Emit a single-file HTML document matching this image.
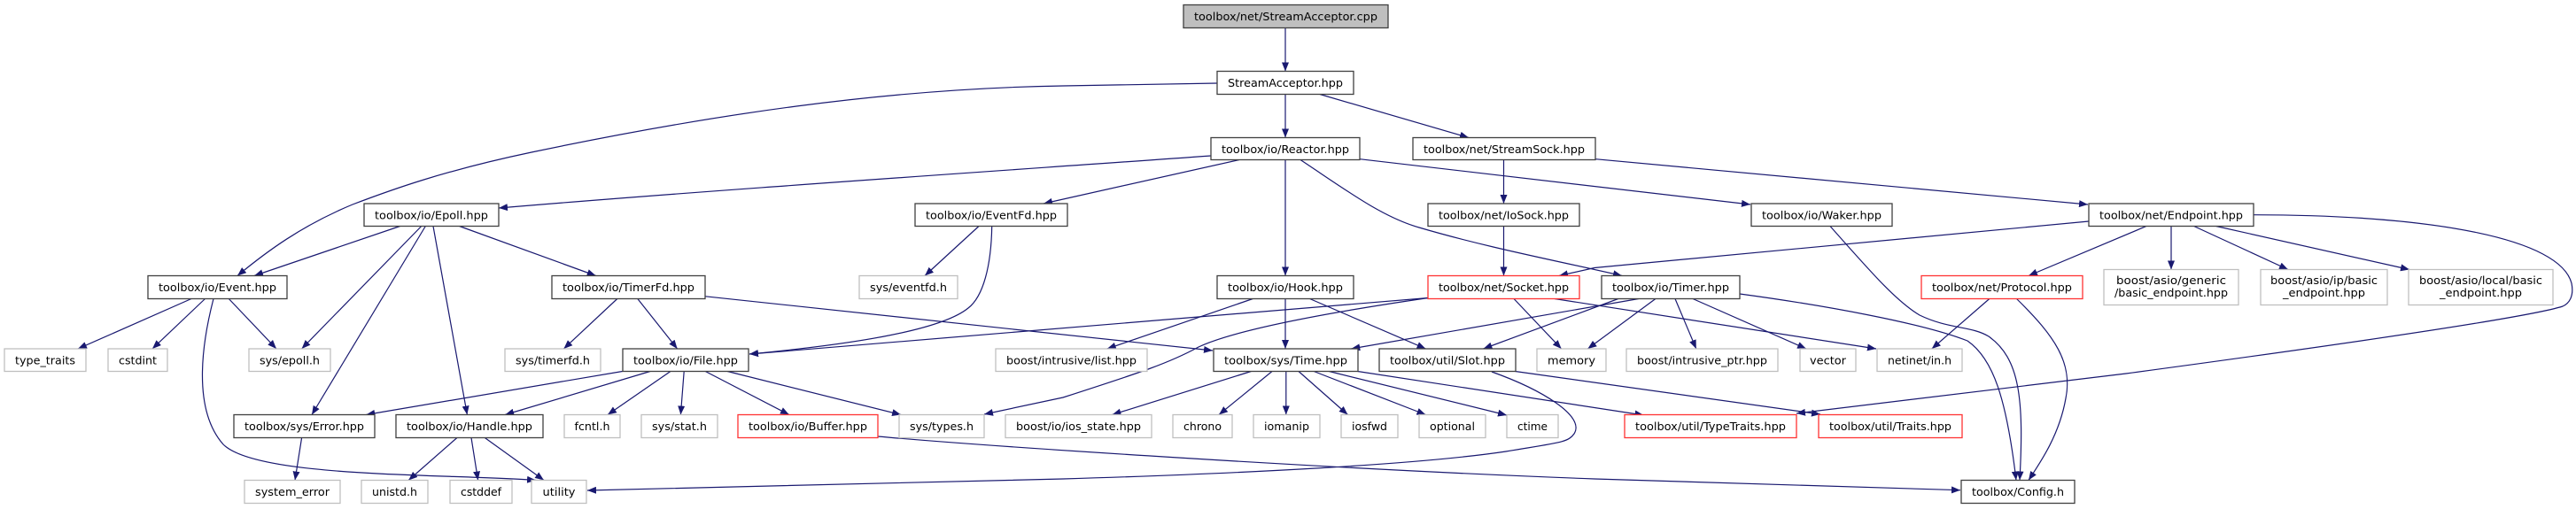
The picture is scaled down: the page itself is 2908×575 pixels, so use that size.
<!DOCTYPE html>
<html><head><meta charset="utf-8"><style>
html,body{margin:0;padding:0;background:#fff;}
svg{display:block;}
text{font-family:"DejaVu Sans","Liberation Sans",sans-serif;font-size:12px;fill:#000;}
.b{fill:#fff;stroke:#404040;stroke-width:1.3;}
.g{fill:#fff;stroke:#bfbfbf;stroke-width:1.3;}
.r{fill:#fff;stroke:#ff3333;stroke-width:1.3;}
.e{fill:none;stroke:#191970;stroke-width:1.2;marker-end:url(#a);}
</style></head><body>
<svg width="2908" height="575" viewBox="0 0 2908 575" xmlns="http://www.w3.org/2000/svg">
<defs><marker id="a" markerUnits="userSpaceOnUse" markerWidth="11" markerHeight="8" refX="10" refY="4" orient="auto"><path d="M0,0 L10,4 L0,8 z" fill="#191970"/></marker></defs>
<g>
<path class="e" d="M1451,31.5 L1451,80.5"/>
<path class="e" d="M1451,106.5 L1451,155.5"/>
<path class="e" d="M1490,106.5 L1658,155.5"/>
<path class="e" d="M1374,94 L1200,97 C1000,100 800,130 600,172 C500,193 440,215 398,231 C340,255 300,285 268,311.5"/>
<path class="e" d="M1367,176 C1100,195 800,215 563,235"/>
<path class="e" d="M1399,180.5 L1178,230"/>
<path class="e" d="M1451,180.5 L1451,311.5"/>
<path class="e" d="M1468,180.5 C1520,215 1560,245 1602,257 C1680,280 1760,295 1831,311.5"/>
<path class="e" d="M1535,179.7 L1976,231"/>
<path class="e" d="M1697.5,180.5 L1697.5,230"/>
<path class="e" d="M1801,179.7 L2357,231"/>
<path class="e" d="M451.6,255.5 L287,311.5"/>
<path class="e" d="M475.7,255.5 L340.6,394"/>
<path class="e" d="M480.3,255.5 L352,468.5"/>
<path class="e" d="M489,255.5 L527.4,468.5"/>
<path class="e" d="M518.6,255.5 L672.7,311.5"/>
<path class="e" d="M1105,255.5 L1044,311.5"/>
<path class="e" d="M1119.7,255.5 C1119,300 1110,335 1093,348 C1060,375 950,390 846,400"/>
<path class="e" d="M1697.5,255.5 L1697.5,311.5"/>
<path class="e" d="M2066,255.5 C2110,305 2140,340 2167,356 C2200,372 2225,368 2245,380 C2280,405 2285,450 2280,542.5"/>
<path class="e" d="M2358,250 L1800,302.5 L1760,311.5"/>
<path class="e" d="M2423,255.5 L2290,311.5"/>
<path class="e" d="M2451,255.5 L2451,304.5"/>
<path class="e" d="M2476.7,255.5 L2583,304.5"/>
<path class="e" d="M2501.7,255.5 L2720,304.5"/>
<path class="e" d="M2544,242.7 C2750,243 2890,270 2903,320 C2906,335 2900,343 2893,346 C2850,360 2600,395 2400,422 L2028,467"/>
<path class="e" d="M216,337.5 L88,394"/>
<path class="e" d="M231.5,337.5 L172,394"/>
<path class="e" d="M258.3,337.5 L312,394"/>
<path class="e" d="M241,337.5 C230,380 215,460 252,502 C290,540 500,535 605,542.5"/>
<path class="e" d="M696.8,337.5 L636.4,394"/>
<path class="e" d="M719.8,337.5 L764.6,394"/>
<path class="e" d="M796.3,334.8 L1369,396"/>
<path class="e" d="M1414.3,337.5 L1249.8,394"/>
<path class="e" d="M1451,337.5 L1451,394"/>
<path class="e" d="M1478.6,337.5 L1609.5,394"/>
<path class="e" d="M1612.5,336.5 L846,400"/>
<path class="e" d="M1612.5,336.5 C1520,350 1400,370 1353,392 C1320,410 1290,420 1200,449 L1111,468"/>
<path class="e" d="M1709,337.5 L1762.6,394"/>
<path class="e" d="M1755,337.5 L2118,394"/>
<path class="e" d="M1849.8,337.5 L1525.3,394"/>
<path class="e" d="M1826.8,337.5 L1674.5,394"/>
<path class="e" d="M1868.9,337.5 L1792.4,394"/>
<path class="e" d="M1891,337.5 L1914.8,394"/>
<path class="e" d="M1911,337.5 L2039,394"/>
<path class="e" d="M1964,332 C2060,345 2170,365 2221,385 C2250,405 2265,450 2276,542.5"/>
<path class="e" d="M2245.8,337.5 L2180.8,394"/>
<path class="e" d="M2276.5,337.5 C2320,380 2340,410 2332,450 C2325,490 2305,520 2290,542.5"/>
<path class="e" d="M702.6,419.5 L413.3,468.5"/>
<path class="e" d="M734,419.5 L570.2,468.5"/>
<path class="e" d="M756.9,419.5 L686,468.5"/>
<path class="e" d="M772.2,419.5 L768.4,468.5"/>
<path class="e" d="M796.3,419.5 L890.9,468.5"/>
<path class="e" d="M821.2,419.5 L1017.1,468.5"/>
<path class="e" d="M1412.4,419.5 L1255.5,468.5"/>
<path class="e" d="M1436,419.5 L1376,468.5"/>
<path class="e" d="M1451.8,419.5 L1451.8,468.5"/>
<path class="e" d="M1466,419.5 L1521.5,468.5"/>
<path class="e" d="M1483.2,419.5 L1609.5,468.5"/>
<path class="e" d="M1500.4,419.5 L1701,469"/>
<path class="e" d="M1532.6,419.5 L1855.5,469"/>
<path class="e" d="M1710.5,419.5 L2055,468"/>
<path class="e" d="M1684,420 C1740,440 1790,470 1777,490 C1770,500 1760,500 1700,510 C1600,525 1400,535 1200,541 L663,554"/>
<path class="e" d="M991,493 C1100,503 1500,530 1800,541 L2213,553.7"/>
<path class="e" d="M340.6,494.5 L333,542.5"/>
<path class="e" d="M515.9,494.5 L461.2,542.5"/>
<path class="e" d="M532,494.5 L539.6,542.5"/>
<path class="e" d="M547.3,494.5 L614,542.5"/>
</g>
<g>
<rect x="1336" y="5.5" width="231" height="26" fill="#bfbfbf" stroke="#404040" stroke-width="1.3"/>
<text x="1451.5" y="23" text-anchor="middle" textLength="207" lengthAdjust="spacingAndGlyphs">toolbox/net/StreamAcceptor.cpp</text>
<rect class="b" x="1374" y="80.5" width="154" height="26"/><text x="1451" y="98" text-anchor="middle" textLength="130" lengthAdjust="spacingAndGlyphs">StreamAcceptor.hpp</text>
<rect class="b" x="1367" y="155.5" width="168" height="25"/><text x="1451" y="173" text-anchor="middle" textLength="144" lengthAdjust="spacingAndGlyphs">toolbox/io/Reactor.hpp</text>
<rect class="b" x="1595" y="155.5" width="206" height="25"/><text x="1698" y="173" text-anchor="middle" textLength="182" lengthAdjust="spacingAndGlyphs">toolbox/net/StreamSock.hpp</text>
<rect class="b" x="411" y="230" width="152" height="25.5"/><text x="487" y="247.5" text-anchor="middle" textLength="128" lengthAdjust="spacingAndGlyphs">toolbox/io/Epoll.hpp</text>
<rect class="b" x="1033" y="230" width="172" height="25.5"/><text x="1119" y="247.5" text-anchor="middle" textLength="148" lengthAdjust="spacingAndGlyphs">toolbox/io/EventFd.hpp</text>
<rect class="b" x="1612" y="230" width="171" height="25.5"/><text x="1697.5" y="247.5" text-anchor="middle" textLength="147" lengthAdjust="spacingAndGlyphs">toolbox/net/IoSock.hpp</text>
<rect class="b" x="1977" y="230" width="159" height="25.5"/><text x="2056.5" y="247.5" text-anchor="middle" textLength="135" lengthAdjust="spacingAndGlyphs">toolbox/io/Waker.hpp</text>
<rect class="b" x="2358" y="230" width="186" height="25.5"/><text x="2451" y="247.5" text-anchor="middle" textLength="162" lengthAdjust="spacingAndGlyphs">toolbox/net/Endpoint.hpp</text>
<rect class="b" x="167" y="311.5" width="157" height="26"/><text x="245.5" y="329" text-anchor="middle" textLength="133" lengthAdjust="spacingAndGlyphs">toolbox/io/Event.hpp</text>
<rect class="b" x="623" y="311.5" width="173" height="26"/><text x="709.5" y="329" text-anchor="middle" textLength="149" lengthAdjust="spacingAndGlyphs">toolbox/io/TimerFd.hpp</text>
<rect class="g" x="970" y="311.5" width="111" height="26"/><text x="1025.5" y="329" text-anchor="middle" textLength="87" lengthAdjust="spacingAndGlyphs">sys/eventfd.h</text>
<rect class="b" x="1374" y="311.5" width="154" height="26"/><text x="1451" y="329" text-anchor="middle" textLength="130" lengthAdjust="spacingAndGlyphs">toolbox/io/Hook.hpp</text>
<rect class="r" x="1612" y="311.5" width="171" height="26"/><text x="1697.5" y="329" text-anchor="middle" textLength="147" lengthAdjust="spacingAndGlyphs">toolbox/net/Socket.hpp</text>
<rect class="b" x="1808" y="311.5" width="156" height="26"/><text x="1886" y="329" text-anchor="middle" textLength="132" lengthAdjust="spacingAndGlyphs">toolbox/io/Timer.hpp</text>
<rect class="r" x="2169" y="311.5" width="182" height="26"/><text x="2260" y="329" text-anchor="middle" textLength="158" lengthAdjust="spacingAndGlyphs">toolbox/net/Protocol.hpp</text>
<rect class="g" x="2375" y="304.5" width="152" height="40"/><text x="2451" y="321" text-anchor="middle" textLength="124" lengthAdjust="spacingAndGlyphs">boost/asio/generic</text><text x="2451" y="335" text-anchor="middle" textLength="128" lengthAdjust="spacingAndGlyphs">/basic_endpoint.hpp</text>
<rect class="g" x="2552" y="304.5" width="143" height="40"/><text x="2623.5" y="321" text-anchor="middle" textLength="121" lengthAdjust="spacingAndGlyphs">boost/asio/ip/basic</text><text x="2623.5" y="335" text-anchor="middle" textLength="93" lengthAdjust="spacingAndGlyphs">_endpoint.hpp</text>
<rect class="g" x="2719" y="304.5" width="163" height="40"/><text x="2800.5" y="321" text-anchor="middle" textLength="139" lengthAdjust="spacingAndGlyphs">boost/asio/local/basic</text><text x="2800.5" y="335" text-anchor="middle" textLength="93" lengthAdjust="spacingAndGlyphs">_endpoint.hpp</text>
<rect class="g" x="5" y="394" width="92" height="25.5"/><text x="51" y="411.5" text-anchor="middle" textLength="68" lengthAdjust="spacingAndGlyphs">type_traits</text>
<rect class="g" x="122" y="394" width="67" height="25.5"/><text x="155.5" y="411.5" text-anchor="middle" textLength="43" lengthAdjust="spacingAndGlyphs">cstdint</text>
<rect class="g" x="281" y="394" width="92" height="25.5"/><text x="327" y="411.5" text-anchor="middle" textLength="68" lengthAdjust="spacingAndGlyphs">sys/epoll.h</text>
<rect class="g" x="570" y="394" width="108" height="25.5"/><text x="624" y="411.5" text-anchor="middle" textLength="84" lengthAdjust="spacingAndGlyphs">sys/timerfd.h</text>
<rect class="b" x="703" y="394" width="142" height="25.5"/><text x="774" y="411.5" text-anchor="middle" textLength="118" lengthAdjust="spacingAndGlyphs">toolbox/io/File.hpp</text>
<rect class="g" x="1124" y="394" width="171" height="25.5"/><text x="1209.5" y="411.5" text-anchor="middle" textLength="147" lengthAdjust="spacingAndGlyphs">boost/intrusive/list.hpp</text>
<rect class="b" x="1370" y="394" width="163" height="25.5"/><text x="1451.5" y="411.5" text-anchor="middle" textLength="139" lengthAdjust="spacingAndGlyphs">toolbox/sys/Time.hpp</text>
<rect class="b" x="1557" y="394" width="154" height="25.5"/><text x="1634" y="411.5" text-anchor="middle" textLength="130" lengthAdjust="spacingAndGlyphs">toolbox/util/Slot.hpp</text>
<rect class="g" x="1735" y="394" width="78" height="25.5"/><text x="1774" y="411.5" text-anchor="middle" textLength="54" lengthAdjust="spacingAndGlyphs">memory</text>
<rect class="g" x="1836" y="394" width="171" height="25.5"/><text x="1921.5" y="411.5" text-anchor="middle" textLength="147" lengthAdjust="spacingAndGlyphs">boost/intrusive_ptr.hpp</text>
<rect class="g" x="2032" y="394" width="63" height="25.5"/><text x="2063.5" y="411.5" text-anchor="middle" textLength="41" lengthAdjust="spacingAndGlyphs">vector</text>
<rect class="g" x="2119" y="394" width="96" height="25.5"/><text x="2167" y="411.5" text-anchor="middle" textLength="72" lengthAdjust="spacingAndGlyphs">netinet/in.h</text>
<rect class="b" x="264" y="468.5" width="159" height="26"/><text x="343.5" y="486" text-anchor="middle" textLength="135" lengthAdjust="spacingAndGlyphs">toolbox/sys/Error.hpp</text>
<rect class="b" x="447" y="468.5" width="166" height="26"/><text x="530" y="486" text-anchor="middle" textLength="142" lengthAdjust="spacingAndGlyphs">toolbox/io/Handle.hpp</text>
<rect class="g" x="637" y="468.5" width="63" height="26"/><text x="668.5" y="486" text-anchor="middle" textLength="40" lengthAdjust="spacingAndGlyphs">fcntl.h</text>
<rect class="g" x="724" y="468.5" width="86" height="26"/><text x="767" y="486" text-anchor="middle" textLength="62" lengthAdjust="spacingAndGlyphs">sys/stat.h</text>
<rect class="r" x="833" y="468.5" width="158" height="26"/><text x="912" y="486" text-anchor="middle" textLength="134" lengthAdjust="spacingAndGlyphs">toolbox/io/Buffer.hpp</text>
<rect class="g" x="1015" y="468.5" width="96" height="26"/><text x="1063" y="486" text-anchor="middle" textLength="72" lengthAdjust="spacingAndGlyphs">sys/types.h</text>
<rect class="g" x="1135" y="468.5" width="165" height="26"/><text x="1217.5" y="486" text-anchor="middle" textLength="141" lengthAdjust="spacingAndGlyphs">boost/io/ios_state.hpp</text>
<rect class="g" x="1324" y="468.5" width="67" height="26"/><text x="1357.5" y="486" text-anchor="middle" textLength="43" lengthAdjust="spacingAndGlyphs">chrono</text>
<rect class="g" x="1415" y="468.5" width="75" height="26"/><text x="1452.5" y="486" text-anchor="middle" textLength="51" lengthAdjust="spacingAndGlyphs">iomanip</text>
<rect class="g" x="1514" y="468.5" width="64" height="26"/><text x="1546" y="486" text-anchor="middle" textLength="40" lengthAdjust="spacingAndGlyphs">iosfwd</text>
<rect class="g" x="1602" y="468.5" width="75" height="26"/><text x="1639.5" y="486" text-anchor="middle" textLength="51" lengthAdjust="spacingAndGlyphs">optional</text>
<rect class="g" x="1701" y="468.5" width="58" height="26"/><text x="1730" y="486" text-anchor="middle" textLength="34" lengthAdjust="spacingAndGlyphs">ctime</text>
<rect class="r" x="1834" y="468.5" width="194" height="26"/><text x="1931" y="486" text-anchor="middle" textLength="170" lengthAdjust="spacingAndGlyphs">toolbox/util/TypeTraits.hpp</text>
<rect class="r" x="2053" y="468.5" width="162" height="26"/><text x="2134" y="486" text-anchor="middle" textLength="138" lengthAdjust="spacingAndGlyphs">toolbox/util/Traits.hpp</text>
<rect class="g" x="276" y="542.5" width="108" height="26"/><text x="330" y="560" text-anchor="middle" textLength="84" lengthAdjust="spacingAndGlyphs">system_error</text>
<rect class="g" x="408" y="542.5" width="75" height="26"/><text x="445.5" y="560" text-anchor="middle" textLength="51" lengthAdjust="spacingAndGlyphs">unistd.h</text>
<rect class="g" x="508" y="542.5" width="70" height="26"/><text x="543" y="560" text-anchor="middle" textLength="46" lengthAdjust="spacingAndGlyphs">cstddef</text>
<rect class="g" x="600" y="542.5" width="62" height="26"/><text x="631" y="560" text-anchor="middle" textLength="37" lengthAdjust="spacingAndGlyphs">utility</text>
<rect class="b" x="2214" y="542.5" width="128" height="26"/><text x="2278" y="560" text-anchor="middle" textLength="104" lengthAdjust="spacingAndGlyphs">toolbox/Config.h</text>
</g>
</svg>
</body></html>
